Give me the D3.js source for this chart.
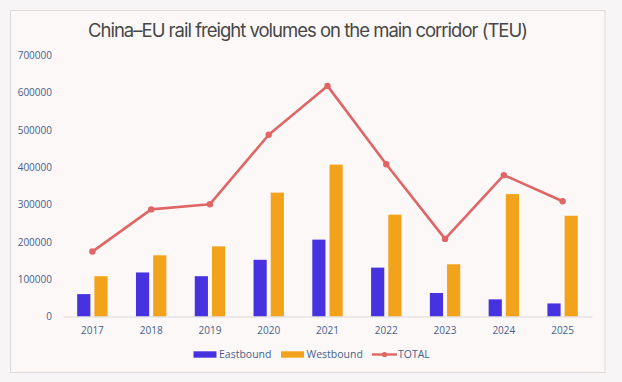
<!DOCTYPE html>
<html><head><meta charset="utf-8">
<script src="https://cdn.jsdelivr.net/npm/d3@7"></script>
<style>
html,body{margin:0;padding:0;background:#f7f5f5;}
svg{display:block;}
</style></head>
<body>
<svg id="chart" width="622" height="382"></svg>
<script>
const years = ["2017","2018","2019","2020","2021","2022","2023","2024","2025"];
const eastbound = [60000,118000,108000,152000,206000,131000,63000,46000,35000];
const westbound = [108000,164000,188000,332000,407000,273000,140000,328000,270000];
const total = [174000,287000,301000,487000,618000,408000,208000,379000,309000];
const yTicks = [0,100000,200000,300000,400000,500000,600000,700000];
const seriesNames = ["Eastbound","Westbound","TOTAL"];
const colors = {Eastbound:"#4632de", Westbound:"#f2a31b", TOTAL:"#e06666"};
const titleText = "China\u2013EU rail freight volumes on the main corridor (TEU)";

const svg = d3.select("#chart");
// panel
svg.append("rect").attr("x",10.5).attr("y",10.5).attr("width",594.5).attr("height",362)
  .attr("fill","#fdf8f8").attr("stroke","#dcdada").attr("stroke-width",1);

const title = svg.append("text").attr("x",307.5).attr("y",37).attr("text-anchor","middle")
  .attr("font-family","Inter, 'Open Sans', sans-serif").attr("font-size",18.5)
  .attr("fill","#474747").text(titleText);
const tw = title.node().getComputedTextLength();
if (tw > 0) title.attr("letter-spacing", (439 - tw) / titleText.length);

const x = d3.scaleBand().domain(years).range([63,592]).padding(0);
const y = d3.scaleLinear().domain([0,700000]).range([316.5,55.3]);
const x1 = d3.scaleBand().domain(["Eastbound","Westbound"]).range([-15.2,15.2]).paddingInner(0.2326).paddingOuter(0);
const cx = d => x(d) + x.bandwidth()/2;

const tickFont = "'Open Sans', sans-serif";
const tickColor = "#46608a";

// y axis labels
const yAxis = d3.axisLeft(y).tickValues(yTicks).tickFormat(d3.format("d")).tickSize(0).tickPadding(0);
const gy = svg.append("g").attr("transform","translate(52,0)").call(yAxis);
gy.select(".domain").remove();
gy.selectAll("text").attr("font-family",tickFont).attr("font-size",10).attr("fill",tickColor);

// bars
const data = years.map((yr,i)=>({year:yr, Eastbound:eastbound[i], Westbound:westbound[i], TOTAL:total[i]}));
["Eastbound","Westbound"].forEach(k=>{
  svg.append("g").selectAll("rect").data(data).join("rect")
    .attr("x", d => cx(d.year) + x1(k))
    .attr("width", x1.bandwidth())
    .attr("y", d => y(d[k]))
    .attr("height", d => y(0) - y(d[k]))
    .attr("fill", colors[k]);
});

// x axis
const xAxis = d3.axisBottom(x).tickSize(0).tickPadding(10);
const gx = svg.append("g").attr("transform",`translate(0,${y(0)})`).call(xAxis);
gx.select(".domain").attr("stroke","#d9d9d9").attr("stroke-width",1);
gx.selectAll("text").attr("font-family",tickFont).attr("font-size",10).attr("fill",tickColor);

// total line
const line = d3.line().x(d=>cx(d.year)).y(d=>y(d.TOTAL));
svg.append("path").datum(data).attr("d",line).attr("fill","none")
  .attr("stroke",colors.TOTAL).attr("stroke-width",2.6).attr("stroke-linejoin","round");
svg.append("g").selectAll("circle").data(data).join("circle")
  .attr("cx",d=>cx(d.year)).attr("cy",d=>y(d.TOTAL)).attr("r",3.2).attr("fill",colors.TOTAL);

// legend
const lg = svg.append("g").attr("font-family",tickFont).attr("font-size",10.5).attr("fill",tickColor);
const legendX = {Eastbound:193.5, Westbound:281, TOTAL:372};
seriesNames.forEach(k=>{
  const lx = legendX[k];
  if (k === "TOTAL") {
    lg.append("line").attr("x1",lx).attr("x2",lx+25).attr("y1",354.5).attr("y2",354.5)
      .attr("stroke",colors[k]).attr("stroke-width",2.4);
    lg.append("circle").attr("cx",lx+12.5).attr("cy",354.5).attr("r",2.6).attr("fill",colors[k]);
    lg.append("text").attr("x",lx+26).attr("y",358.3).text(k);
  } else {
    lg.append("rect").attr("x",lx).attr("y",351.3).attr("width",23).attr("height",6.4).attr("fill",colors[k]);
    lg.append("text").attr("x",lx+25.5).attr("y",358.3).text(k);
  }
});
</script>
</body></html>
